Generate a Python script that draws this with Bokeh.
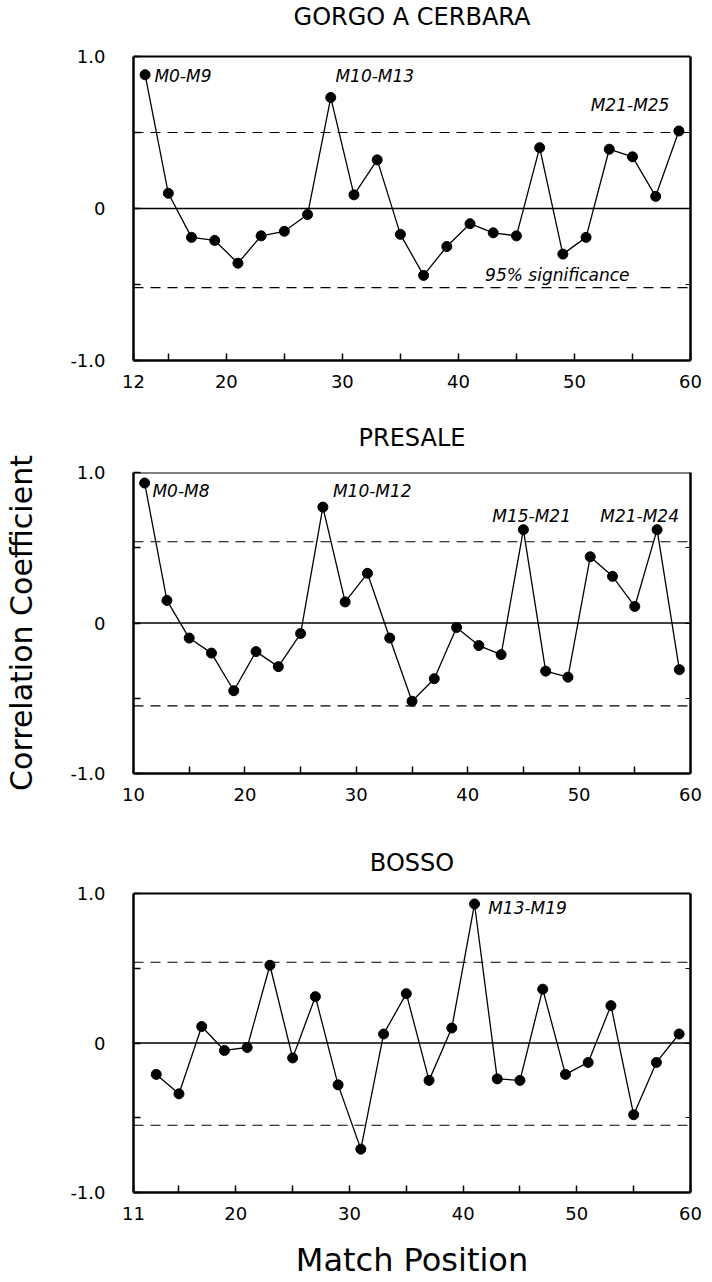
from bokeh.plotting import figure
from bokeh.models import Range1d, Span, FixedTicker, ColumnDataSource, LinearAxis
from bokeh.layouts import column
from bokeh.core.properties import value
from bokeh.embed import file_html
from bokeh.resources import INLINE

FONT = "DejaVu Sans"

# ---------------- data ----------------
titles = ["GORGO A CERBARA", "PRESALE", "BOSSO"]

gorgo_x = [13, 15, 17, 19, 21, 23, 25, 27, 29, 31, 33, 35, 37, 39, 41, 43, 45, 47, 49, 51, 53, 55, 57, 59]
gorgo_r = [0.88, 0.10, -0.19, -0.21, -0.36, -0.18, -0.15, -0.04, 0.73, 0.09, 0.32, -0.17, -0.44,
           -0.25, -0.10, -0.16, -0.18, 0.40, -0.30, -0.19, 0.39, 0.34, 0.08, 0.51]
gorgo_sig = [0.50, -0.52]
gorgo_ticks = [12, 15, 20, 25, 30, 35, 40, 45, 50, 55, 60]
gorgo_tick_labels = ["12", "", "20", "", "30", "", "40", "", "50", "", "60"]
gorgo_ann_x = [13.8, 29.4, 51.4, 42.3]
gorgo_ann_y = [0.875, 0.875, 0.68, -0.44]
gorgo_ann_text = ["M0-M9", "M10-M13", "M21-M25", "95% significance"]

presale_x = [11, 13, 15, 17, 19, 21, 23, 25, 27, 29, 31, 33, 35, 37, 39, 41, 43, 45, 47, 49, 51, 53, 55, 57, 59]
presale_r = [0.93, 0.15, -0.10, -0.20, -0.45, -0.19, -0.29, -0.07, 0.77, 0.14, 0.33, -0.10, -0.52,
             -0.37, -0.03, -0.15, -0.21, 0.62, -0.32, -0.36, 0.44, 0.31, 0.11, 0.62, -0.31]
presale_sig = [0.54, -0.55]
presale_ticks = [10, 15, 20, 25, 30, 35, 40, 45, 50, 55, 60]
presale_tick_labels = ["10", "", "20", "", "30", "", "40", "", "50", "", "60"]
presale_ann_x = [11.7, 27.9, 42.2, 51.9]
presale_ann_y = [0.88, 0.88, 0.71, 0.71]
presale_ann_text = ["M0-M8", "M10-M12", "M15-M21", "M21-M24"]

bosso_x = [13, 15, 17, 19, 21, 23, 25, 27, 29, 31, 33, 35, 37, 39, 41, 43, 45, 47, 49, 51, 53, 55, 57, 59]
bosso_r = [-0.21, -0.34, 0.11, -0.05, -0.03, 0.52, -0.10, 0.31, -0.28, -0.71, 0.06, 0.33,
           -0.25, 0.10, 0.93, -0.24, -0.25, 0.36, -0.21, -0.13, 0.25, -0.48, -0.13, 0.06]
bosso_sig = [0.54, -0.55]
bosso_ticks = [11, 15, 20, 25, 30, 35, 40, 45, 50, 55, 60]
bosso_tick_labels = ["11", "", "20", "", "30", "", "40", "", "50", "", "60"]
bosso_ann_x = [42.2]
bosso_ann_y = [0.905]
bosso_ann_text = ["M13-M19"]

y_ticks = [-1.0, -0.5, 0.0, 0.5, 1.0]
y_tick_labels = ["-1.0", "", "0", "", "1.0"]


def panel(title, xs, rs, sig, ticks, tick_labels, ann_x, ann_y, ann_text,
          top_gap, plot_h, b_bottom, b_right, title_gap, ylabel=None, xlabel=None,
          real_title=False):
    if real_title:
        # a genuine Bokeh title above the frame (its size sets the top border)
        y_top = 1.0
        height = top_gap + plot_h + b_bottom
    else:
        # the frame extends above y = 1 so that the panel title can sit inside it
        y_top = 1.0 + 2.0 * top_gap / plot_h
        height = top_gap + plot_h + b_bottom
    title_y = 1.0 + 2.0 * title_gap / plot_h
    p = figure(width=704, height=height, output_backend="svg", toolbar_location=None,
               x_range=Range1d(ticks[0], ticks[-1]), y_range=Range1d(-1.0, y_top),
               min_border_top=0, min_border_bottom=b_bottom,
               min_border_left=133, min_border_right=b_right)

    if real_title:
        p.title.text = title
        p.title.align = "center"
        p.title.text_font = FONT
        p.title.text_font_size = "24px"
        p.title.text_font_style = "normal"
        p.title.text_color = "black"
        p.title.standoff = 42

    p.xgrid.visible = False
    p.ygrid.visible = False
    p.outline_line_color = None

    xax = p.below[0]
    yax = p.left[0]
    xax.ticker = FixedTicker(ticks=ticks)
    xax.major_label_overrides = {t: l for t, l in zip(ticks, tick_labels)}
    yax.ticker = FixedTicker(ticks=y_ticks)
    yax.major_label_overrides = {t: l for t, l in zip(y_ticks, y_tick_labels)}
    yax.bounds = (-1.0, 1.0)
    for ax in (xax, yax):
        ax.major_tick_in = 7
        ax.major_tick_out = 0
        ax.minor_tick_line_color = None
        ax.major_tick_line_width = 1.5
        ax.axis_line_width = 2.5
        ax.axis_line_color = "black"
        ax.major_label_text_font = FONT
        ax.major_label_text_font_size = "18px"
        ax.major_label_text_color = "black"
        ax.axis_label_text_color = "black"
    xax.major_label_standoff = 14
    yax.major_label_standoff = 28

    if ylabel:
        yax.axis_label = ylabel
        yax.axis_label_text_font = FONT
        yax.axis_label_text_font_size = "30px"
        yax.axis_label_text_font_style = "normal"
        yax.axis_label_standoff = 28
    if xlabel:
        xax.axis_label = xlabel
        xax.axis_label_text_font = FONT
        xax.axis_label_text_font_size = "32px"
        xax.axis_label_text_font_style = "normal"
        xax.axis_label_standoff = 18

    # right-hand frame edge
    rax = LinearAxis(ticker=FixedTicker(ticks=[-0.5, 0.0, 0.5]), bounds=(-1.0, 1.0),
                     major_label_overrides={-0.5: "", 0.0: "", 0.5: ""},
                     major_label_standoff=0, major_label_text_font_size="1px",
                     major_tick_in=5, major_tick_out=0, major_tick_line_width=1.2,
                     minor_tick_line_color=None, axis_line_width=2.5, axis_line_color="black")
    p.add_layout(rax, "right")

    # top frame edge, zero line and 95% significance levels
    p.add_layout(Span(location=1.0, dimension="width", line_color="black", line_width=2))
    p.add_layout(Span(location=0, dimension="width", line_color="black", line_width=1.3))
    for s in sig:
        p.add_layout(Span(location=s, dimension="width", line_color="black",
                          line_width=1.2, line_dash="10 7"))

    src = ColumnDataSource(dict(x=xs, r=rs))
    p.line("x", "r", source=src, line_color="black", line_width=1.3)
    p.scatter("x", "r", source=src, size=10, fill_color="black", line_color="black")

    asrc = ColumnDataSource(dict(x=ann_x, y=ann_y, t=ann_text))
    p.text("x", "y", text="t", source=asrc, text_font=value(FONT), text_font_style="italic",
           text_font_size="17px", text_baseline="middle", text_align="left", text_color="black")

    if not real_title:
        tsrc = ColumnDataSource(dict(x=[(ticks[0] + ticks[-1]) / 2], y=[title_y], t=[title]))
        p.text("x", "y", text="t", source=tsrc, text_font=value(FONT), text_font_size="24px",
               text_baseline="middle", text_align="center", text_color="black")
    return p


p1 = panel(titles[0], gorgo_x, gorgo_r, gorgo_sig, gorgo_ticks, gorgo_tick_labels,
           gorgo_ann_x, gorgo_ann_y, gorgo_ann_text,
           top_gap=56, plot_h=304, b_bottom=40, b_right=14, title_gap=40)
p2 = panel(titles[1], presale_x, presale_r, presale_sig, presale_ticks, presale_tick_labels,
           presale_ann_x, presale_ann_y, presale_ann_text,
           top_gap=72, plot_h=301, b_bottom=52, b_right=11, title_gap=35,
           ylabel="Correlation Coefficient", real_title=True)
p3 = panel(titles[2], bosso_x, bosso_r, bosso_sig, bosso_ticks, bosso_tick_labels,
           bosso_ann_x, bosso_ann_y, bosso_ann_text,
           top_gap=68, plot_h=299, b_bottom=90, b_right=11, title_gap=31,
           xlabel="Match Position")

layout = column(p1, p2, p3, spacing=0)
open("out.html", "w").write(file_html(layout, INLINE))
